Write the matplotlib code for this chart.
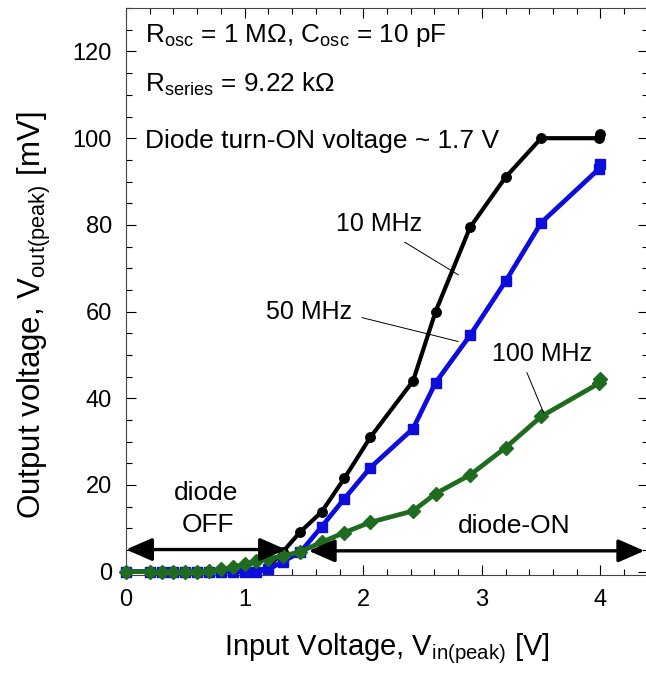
import matplotlib
matplotlib.use("Agg")
import matplotlib.pyplot as plt
from matplotlib.ticker import MultipleLocator

plt.rcParams['font.family'] = ['Liberation Sans', 'DejaVu Sans']
plt.rcParams['mathtext.fontset'] = 'custom'
plt.rcParams['mathtext.rm'] = 'Liberation Sans'
plt.rcParams['mathtext.it'] = 'Liberation Sans'

# Input voltage (V) shared by all series
vin = [0, 0.2, 0.3, 0.4, 0.5, 0.6, 0.7, 0.8, 0.9, 1.0, 1.1, 1.2, 1.32,
       1.47, 1.65, 1.84, 2.06, 2.42, 2.61, 2.9, 3.2, 3.5, 3.99, 4.0]
# Output voltage (mV)
v_10mhz = [0, 0, 0, 0, 0, 0, 0, 0, 0, 0, 0, 1.0, 4.5,
           9.2, 13.8, 21.5, 31.0, 44.0, 60.0, 79.4, 91.0, 100.0, 100.0, 101.0]
v_50mhz = [0, 0, 0, 0, 0, 0, 0, 0, 0, 0, 0, 0.5, 2.3,
           4.5, 10.4, 16.8, 24.0, 33.0, 43.6, 54.5, 67.0, 80.5, 93.0, 94.0]
v_100mhz = [0, 0, 0, 0, 0, 0, 0.1, 0.5, 1.0, 1.7, 2.5, 3.0, 3.6,
            4.6, 6.8, 9.0, 11.4, 14.0, 18.0, 22.3, 28.6, 35.8, 43.5, 44.5]

fig = plt.figure(figsize=(6.46, 6.79), dpi=100)
ax = fig.add_axes([0.195, 0.153, 0.808, 0.835])

blue = '#0c0cdc'
green = '#1f6b1f'
ax.plot(vin, v_10mhz, color='black', lw=3.0, marker='o', ms=6.8, clip_on=False, zorder=3)
ax.plot(vin, v_50mhz, color=blue, lw=3.4, marker='s', ms=7.2, clip_on=False, zorder=4)
ax.plot(vin, v_100mhz, color=green, lw=3.4, marker='D', ms=7, clip_on=False, zorder=5)

ax.set_xlim(0, 4.4)
ax.set_ylim(-0.8, 130)
ax.xaxis.set_major_locator(MultipleLocator(1))
ax.xaxis.set_minor_locator(MultipleLocator(0.2))
ax.yaxis.set_major_locator(MultipleLocator(20))
ax.yaxis.set_minor_locator(MultipleLocator(5))
ax.tick_params(which='both', direction='in', top=True, right=True, labelsize=17, width=0.8)
ax.tick_params(which='major', length=7)
ax.tick_params(which='minor', length=4)
ax.tick_params(axis='x', which='major', pad=10)
ax.tick_params(axis='y', which='major', pad=10)
for s in ax.spines.values():
    s.set_linewidth(0.8)
    s.set_color('#444444')

ax.set_xlabel(r'Input Voltage, V$_{\mathregular{in(peak)}}$ [V]', fontsize=21, labelpad=15)
ax.set_ylabel(r'Output voltage, V$_{\mathregular{out(peak)}}$ [mV]', fontsize=22.5)
ax.yaxis.set_label_coords(-0.14, 0.458)

# arrows
ap = dict(arrowstyle='<|-|>,head_length=1.6,head_width=0.7', mutation_scale=10,
          lw=2.4, color='black', shrinkA=0, shrinkB=0)
ax.annotate('', xy=(0.0, 5.1), xytext=(1.35, 5.1), arrowprops=ap, zorder=10,
            annotation_clip=False)
ax.annotate('', xy=(1.54, 4.8), xytext=(4.37, 4.8), arrowprops=ap, zorder=10,
            annotation_clip=False)

ax.text(0.675, 16.6, 'diode', ha='center', va='baseline', fontsize=19)
ax.text(0.69, 9.2, 'OFF', ha='center', va='baseline', fontsize=19)
ax.text(3.27, 9.0, 'diode-ON', ha='center', va='baseline', fontsize=19)

# curve labels with leader lines
ax.text(2.13, 78.5, '10 MHz', ha='center', va='baseline', fontsize=18)
ax.plot([2.35, 2.80], [76.0, 68.5], color='black', lw=0.7, zorder=6)
ax.text(1.91, 58.2, '50 MHz', ha='right', va='baseline', fontsize=18)
ax.plot([1.99, 2.80], [58.6, 53.1], color='black', lw=0.7, zorder=6)
ax.text(3.51, 48.5, '100 MHz', ha='center', va='baseline', fontsize=18)
ax.plot([3.38, 3.52], [45.9, 36.7], color='black', lw=0.7, zorder=6)

ax.text(0.16, 122.3, r'R$_{\mathregular{osc}}$ = 1 M$\Omega$, C$_{\mathregular{osc}}$ = 10 pF',
        ha='left', va='baseline', fontsize=18.8)
ax.text(0.16, 110.8, r'R$_{\mathregular{series}}$ = 9.22 k$\Omega$',
        ha='left', va='baseline', fontsize=18.8)
ax.text(0.16, 97.7, 'Diode turn-ON voltage ~ 1.7 V',
        ha='left', va='baseline', fontsize=19)

fig.savefig('out.png', dpi=100)
